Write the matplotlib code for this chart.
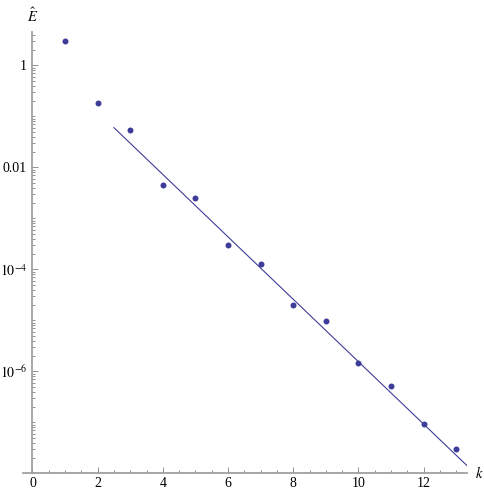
import matplotlib.pyplot as plt
import matplotlib.ticker as mticker
import numpy as np

plt.rcParams['font.family'] = 'serif'
plt.rcParams['font.serif'] = ['Liberation Serif', 'DejaVu Serif']
plt.rcParams['mathtext.fontset'] = 'stix'

# data
k = [1, 2, 3, 4, 5, 6, 7, 8, 9, 10, 11, 12, 13]
E_hat = [3.03, 0.185, 0.053, 0.0046, 0.0025, 3.0e-4, 1.27e-4,
         2.0e-5, 9.5e-6, 1.47e-6, 5.1e-7, 9.4e-8, 2.95e-8]

# fitted line log10(E) = fit_a + fit_b * k, drawn from k = 2.5
fit_a = 0.308
fit_b = -0.612
fit_start = 2.5

ytick_vals = [1, 1e-2, 1e-4, 1e-6]
ytick_labels = ['1', '0.01', r'$10^{-4}$', r'$10^{-6}$']
xtick_vals = [0, 2, 4, 6, 8, 10, 12]

col = '#3d3d99'
axcol = '#a0a0a0'

fig = plt.figure(figsize=(4.85, 4.93), dpi=100)
ax = fig.add_axes([0.0474, 0.040, 0.9155, 0.895])

xmin, xmax = -0.29, 13.33
ax.set_xlim(xmin, xmax)
ax.set_yscale('log')
ax.set_ylim(1e-8, 4.5)

kk = np.linspace(fit_start, xmax, 50)
ax.plot(kk, 10 ** (fit_a + fit_b * kk), color=col, lw=0.8)
ax.plot(k, E_hat, 'o', color=col, ms=4.3, mec='none')

for s in ['top', 'right']:
    ax.spines[s].set_visible(False)
ax.spines['left'].set_position(('data', 0))
for s in ['left', 'bottom']:
    ax.spines[s].set_color(axcol)
    ax.spines[s].set_linewidth(1.3)

ax.set_xticks(xtick_vals)
ax.set_xticklabels([str(v) for v in xtick_vals])
ax.xaxis.set_minor_locator(mticker.MultipleLocator(0.5))
ax.set_yticks(ytick_vals)
ax.set_yticklabels(ytick_labels)
ax.yaxis.set_minor_locator(mticker.LogLocator(base=10, subs=np.arange(1, 10), numticks=40))
ax.yaxis.set_minor_formatter(mticker.NullFormatter())

ax.tick_params(axis='both', which='both', direction='in', color='#808080',
               labelsize=10, width=0.6)
ax.tick_params(axis='x', which='major', length=4, pad=3)
ax.tick_params(axis='x', which='minor', length=2.5)
ax.tick_params(axis='y', which='major', length=4.5, pad=4)
ax.tick_params(axis='y', which='minor', length=2)

ax.annotate(r'$\hat{E}$', xy=(0, 1), xycoords=('data', 'axes fraction'),
            xytext=(0, 12), textcoords='offset points', ha='center', va='center',
            fontsize=10.5)
ax.annotate(r'$k$', xy=(1, 0), xycoords='axes fraction',
            xytext=(6, 0), textcoords='offset points', ha='left', va='center',
            fontsize=10.5)

fig.savefig('out.png', dpi=100)
